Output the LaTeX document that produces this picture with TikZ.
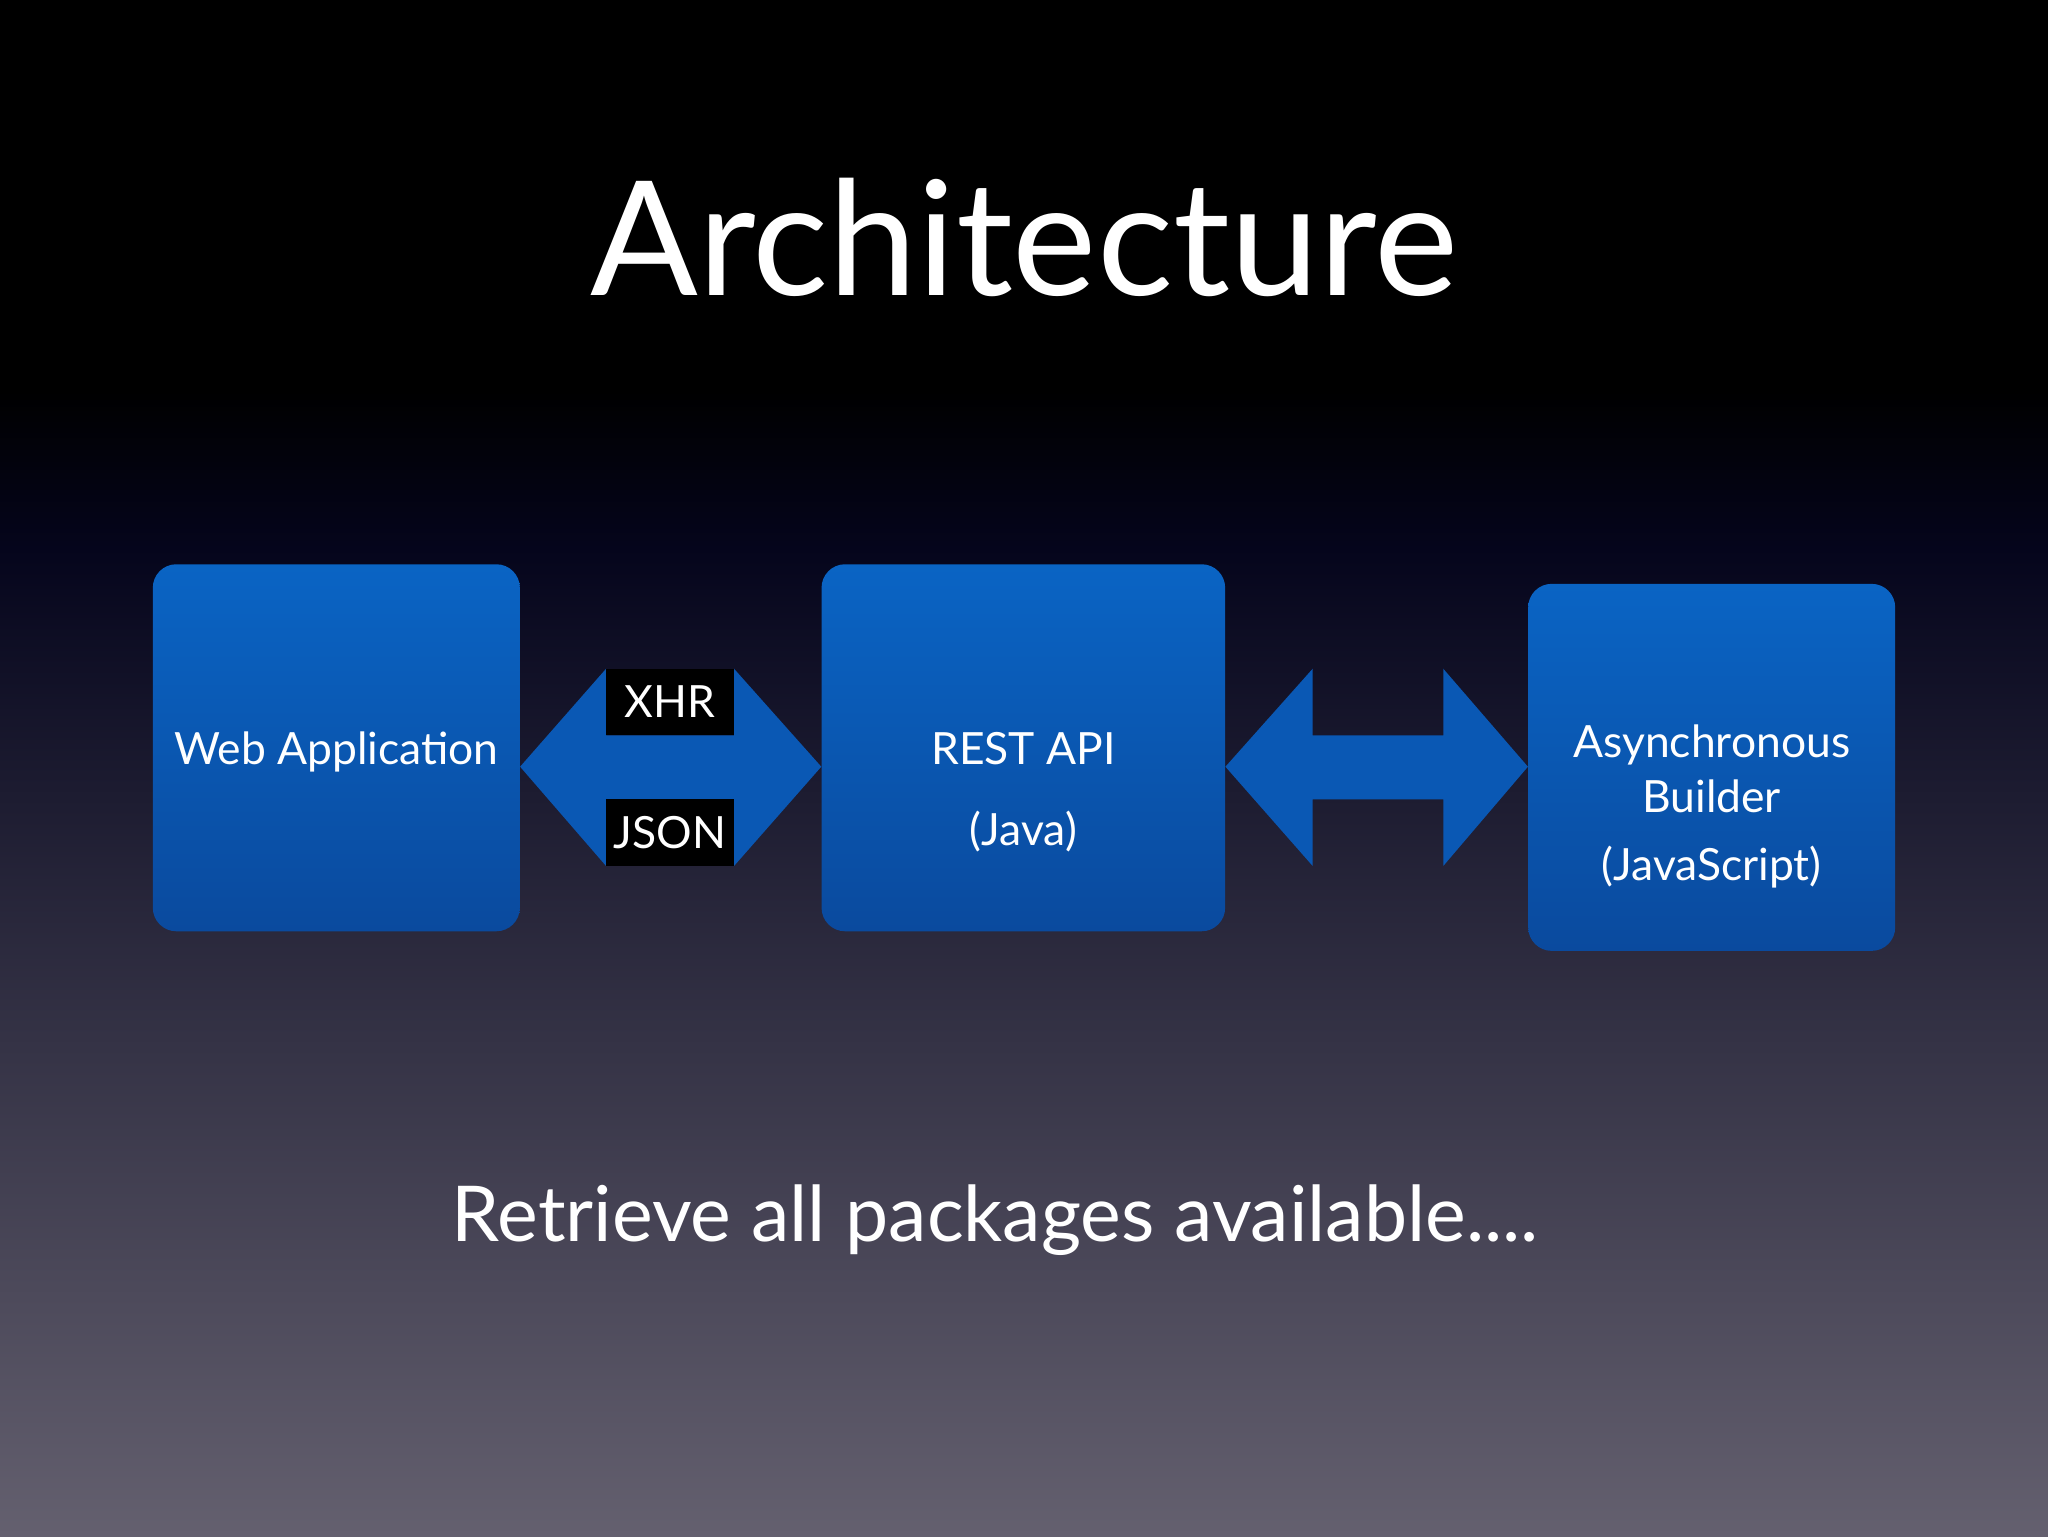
\documentclass[tikz,border=0pt]{standalone}
\usepackage{fontspec}
\setmainfont{Lato}
\usetikzlibrary{calc}
\definecolor{bgmid}{HTML}{05051C}
\definecolor{bgbot}{HTML}{64606F}
\definecolor{bxtop}{HTML}{0A64C4}
\definecolor{bxbot}{HTML}{0A4A9E}
\definecolor{arr}{HTML}{0A58B4}
\tikzset{
  blk/.style={rounded corners=18pt, top color=bxtop, bottom color=bxbot, draw=none, inner sep=0pt},
  txt/.style={text=white, align=center, font=\fontsize{34}{42}\selectfont, inner sep=0pt},
  lbl/.style={fill=black, text=white, font=\fontsize{34}{40}\selectfont, minimum width=98pt, minimum height=51pt, inner sep=0pt},
  arrowshape/.style={fill=arr, draw=none}
}
\begin{document}
\begin{tikzpicture}[x=1pt,y=-1pt]
\fill[black] (0,0) rectangle (1568,300);
\shade[top color=black, bottom color=bgmid] (0,299) rectangle (1568,420);
\shade[top color=bgmid, bottom color=bgbot] (0,419) rectangle (1568,1176);
\useasboundingbox (0,0) rectangle (1568,1176);
\node[text=white, font=\fontsize{122}{130}\selectfont] (title) at (784,182) {Architecture};
\node[blk, minimum width=281pt, minimum height=281pt] (web) at (257.5,572.5) {};
\node[blk, minimum width=309pt, minimum height=281pt] (rest) at (783.5,572.5) {};
\node[blk, minimum width=281pt, minimum height=281pt] (async) at (1310.5,587.5) {};
\node[txt] (webt) at ([yshift=-3pt]web.center) {Web Application};
\node[txt] (restt) at ([yshift=-34pt]rest.center) {REST API\\[20pt](Java)};
\node[txt] (asynct) at ([yshift=-30pt]async.center) {Asynchronous\\Builder\\[10pt](JavaScript)};
% left double arrow
\fill[arrowshape] (web.east |- 0,587) -- (464,512) -- (464,563) -- (562,563) -- (562,512) -- (rest.west |- 0,587) -- (562,663) -- (562,612) -- (464,612) -- (464,663) -- cycle;
\node[lbl] (xhr) at (513,537.5) {XHR};
\node[lbl] (json) at (513,637.5) {JSON};
% right double arrow
\fill[arrowshape] (rest.east |- 0,587) -- (1005,512) -- (1005,563) -- (1105,563) -- (1105,512) -- (async.west |- 0,587) -- (1105,663) -- (1105,612) -- (1005,612) -- (1005,663) -- cycle;
\node[text=white, font=\fontsize{59}{66}\selectfont] (foot) at (762,934) {Retrieve all packages available....};
\end{tikzpicture}
\end{document}
